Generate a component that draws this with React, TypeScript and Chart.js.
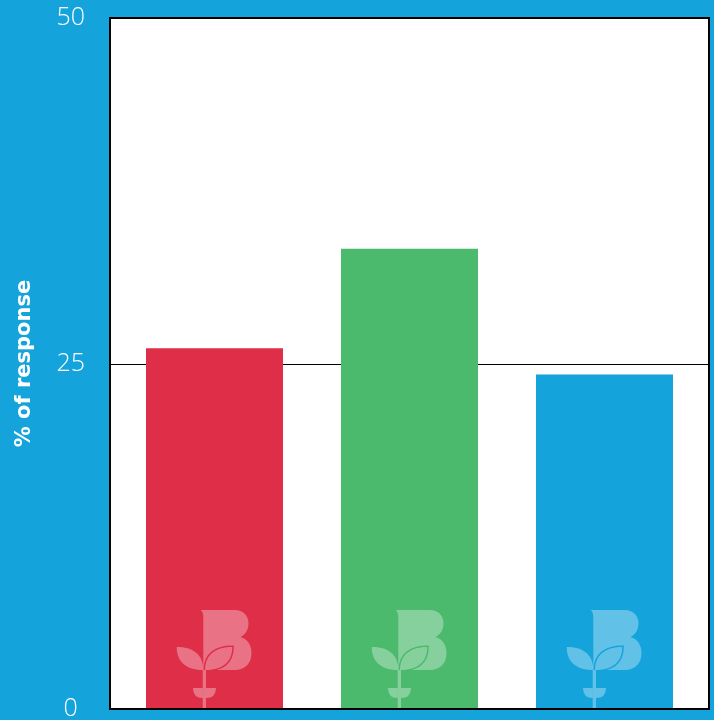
import React, { useEffect, useRef } from "react";
import { Chart, registerables } from "chart.js";

Chart.register(...registerables);

const categories = ["A", "B", "C"];
const values = [26.1, 33.3, 24.2];
const barColors = ["#de2e48", "#4bba6d", "#15a3dc"];
const yTicks = [0, 25, 50];
const yTitle = "% of response";
const BG = "#15a3dc";
const EXT = 7; // white plot frame extends beyond category range

function drawLogo(ctx: CanvasRenderingContext2D, cx: number, base: number, barColor: string) {
  ctx.save();
  ctx.translate(cx, base);
  const light = "rgba(255,255,255,0.33)";
  ctx.fillStyle = light;
  ctx.beginPath();
  ctx.moveTo(-13.8, -99);
  ctx.lineTo(20, -99);
  ctx.bezierCurveTo(30, -99, 34, -92, 34, -86);
  ctx.bezierCurveTo(34, -78, 30, -74, 26, -72);
  ctx.bezierCurveTo(33, -70, 37, -64, 37, -56);
  ctx.bezierCurveTo(37, -46, 31, -39, 20, -39);
  ctx.lineTo(-11.2, -39);
  ctx.lineTo(-11.2, -92);
  ctx.quadraticCurveTo(-11.2, -97, -13.8, -99);
  ctx.closePath();
  ctx.fill();
  ctx.beginPath();
  ctx.moveTo(-9.5, -39);
  ctx.bezierCurveTo(-9.5, -55, 2, -62, 17.8, -62);
  ctx.bezierCurveTo(17.8, -46, 7, -39, -9.5, -39);
  ctx.closePath();
  ctx.strokeStyle = barColor;
  ctx.lineWidth = 3;
  ctx.stroke();
  ctx.fillStyle = barColor;
  ctx.fill();
  ctx.fillStyle = light;
  ctx.fill();
  ctx.beginPath();
  ctx.moveTo(-37.8, -62);
  ctx.bezierCurveTo(-22, -62, -11.2, -55, -11.2, -39);
  ctx.bezierCurveTo(-27, -39, -37.8, -46, -37.8, -62);
  ctx.closePath();
  ctx.fill();
  ctx.fillRect(-11.8, -39, 3.3, 39);
  ctx.beginPath();
  ctx.moveTo(-21.5, -21);
  ctx.lineTo(-11.8, -21);
  ctx.lineTo(-11.8, -11);
  ctx.quadraticCurveTo(-21.5, -11, -21.5, -21);
  ctx.closePath();
  ctx.fill();
  ctx.beginPath();
  ctx.moveTo(1.5, -21);
  ctx.lineTo(-8.5, -21);
  ctx.lineTo(-8.5, -11);
  ctx.quadraticCurveTo(1.5, -11, 1.5, -21);
  ctx.closePath();
  ctx.fill();
  ctx.restore();
}

const bgPlugin = {
  id: "bgPlugin",
  beforeDraw(chart: any) {
    const { ctx, chartArea } = chart;
    const yScale = chart.scales.y;
    ctx.save();
    ctx.fillStyle = BG;
    ctx.fillRect(0, 0, chart.width, chart.height);
    ctx.fillStyle = "#ffffff";
    const l = chartArea.left - EXT, r = chartArea.right + EXT;
    ctx.fillRect(l, chartArea.top, r - l, chartArea.bottom - chartArea.top);
    ctx.strokeStyle = "#000000";
    ctx.lineWidth = 1;
    yTicks.forEach((v) => {
      const y = Math.round(yScale.getPixelForValue(v)) + 0.5;
      ctx.beginPath();
      ctx.moveTo(l, y);
      ctx.lineTo(r, y);
      ctx.stroke();
    });
    ctx.restore();
  },
  afterDatasetsDraw(chart: any) {
    const { ctx, chartArea } = chart;
    const meta = chart.getDatasetMeta(0);
    const l = chartArea.left - EXT, r = chartArea.right + EXT;
    ctx.save();
    ctx.beginPath();
    ctx.rect(l, chartArea.top, r - l, chartArea.bottom - chartArea.top);
    ctx.clip();
    meta.data.forEach((bar: any, i: number) => {
      drawLogo(ctx, bar.x, bar.base, barColors[i]);
    });
    ctx.restore();
    ctx.save();
    ctx.strokeStyle = "#000000";
    ctx.lineWidth = 2;
    ctx.strokeRect(l, chartArea.top, r - l, chartArea.bottom - chartArea.top);
    ctx.restore();
  },
};

export default function App() {
  const ref = useRef<HTMLCanvasElement | null>(null);
  useEffect(() => {
    document.body.style.margin = "0";
    document.body.style.background = BG;
    const chart = new Chart(ref.current!, {
      type: "bar",
      data: {
        labels: categories,
        datasets: [
          {
            data: values,
            backgroundColor: barColors,
            barPercentage: 0.7026,
            categoryPercentage: 1,
            borderWidth: 0,
          },
        ],
      },
      options: {
        animation: false,
        responsive: false,
        layout: { padding: { top: 18, right: 5 + EXT, bottom: 11, left: 0 } },
        plugins: { legend: { display: false }, tooltip: { enabled: false } },
        scales: {
          x: { display: false },
          y: {
            min: 0,
            max: 50,
            afterFit(scale: any) {
              scale.width = 110 + EXT;
              scale.paddingTop = 0;
              scale.paddingBottom = 0;
            },
            afterBuildTicks(scale: any) {
              scale.ticks = yTicks.map((v) => ({ value: v }));
            },
            border: { display: false },
            grid: { display: false, drawTicks: false },
            ticks: {
              color: "#ffffff",
              padding: 25 + EXT,
              crossAlign: "center",
              font: { family: "'Open Sans'", size: 25, weight: "300" },
            },
            title: {
              display: true,
              text: yTitle,
              color: "#ffffff",
              padding: { top: 12, bottom: 0 },
              font: { family: "'DejaVu Sans'", size: 21, weight: "bold" },
            },
          },
        },
      },
      plugins: [bgPlugin],
    });
    return () => chart.destroy();
  }, []);
  return (
    <div style={{ width: 714, height: 720, background: BG }}>
      <canvas ref={ref} width={714} height={720} style={{ display: "block" }} />
    </div>
  );
}
